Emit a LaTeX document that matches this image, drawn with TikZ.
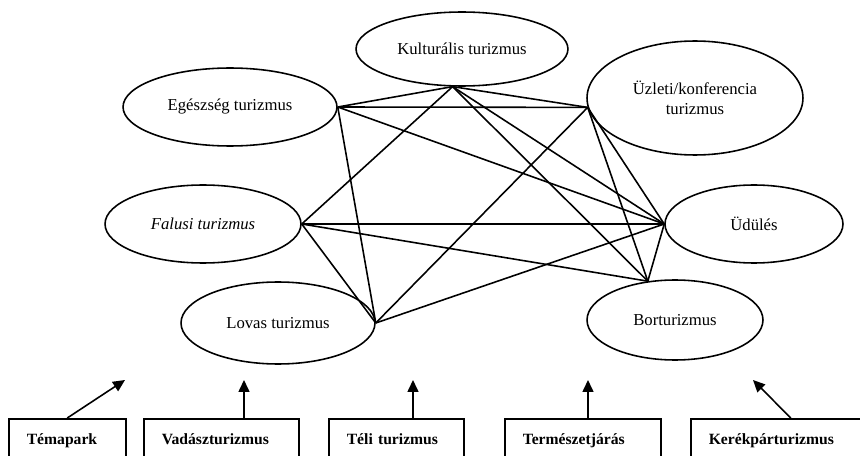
\documentclass[tikz,border=0pt]{standalone}
\usepackage{fontspec}
\setmainfont{Liberation Serif}
\usetikzlibrary{shapes.geometric,arrows.meta}

\begin{document}
\begin{tikzpicture}[x=0.02cm,y=-0.02cm,line width=0.9pt,
  tipus/.style={draw,ellipse,inner sep=0pt,align=center,font=\fontsize{9.5}{11.3}\selectfont},
  doboz/.style={draw,anchor=north west,minimum height=0.84cm,inner xsep=0.36cm,inner ysep=0pt,
    text height=0.7em,text depth=0.2em,align=left,font=\fontsize{8.9}{10}\selectfont\bfseries},
  nyil/.style={-{Triangle[length=0.24cm,width=0.22cm]}}]
%\draw [lightgray, ultra thin] (0,0) grid [step=20] (860,456);
\useasboundingbox (0,0) rectangle (860,456);
\clip (0,0) rectangle (860,456);

\node [tipus,minimum width=4.24cm,minimum height=1.48cm] (kult) at (462,49) {Kulturális turizmus};
\node [tipus,minimum width=4.28cm,minimum height=1.56cm] (ege) at (230,107) {Egészség turizmus};
\node [tipus,minimum width=4.32cm,minimum height=2.28cm] (uzl) at (695,98) {Üzleti/konferencia\\turizmus};
\node [tipus,minimum width=3.92cm,minimum height=1.56cm] (fal) at (203,224) {\itshape Falusi turizmus};
\node [tipus,minimum width=3.56cm,minimum height=1.56cm] (udu) at (754,224) {Üdülés};
\node [tipus,minimum width=3.88cm,minimum height=1.64cm] (lov) at (278,323) {Lovas turizmus};
\node [tipus,minimum width=3.52cm,minimum height=1.60cm] (bor) at (675,320) {Borturizmus};

\draw (ege.east) -- (kult.256);
\draw (ege.east) -- (uzl.185);
\draw (ege.east) -- (udu.west);
\draw (ege.east) -- (lov.east);

\draw (kult.256) -- (uzl.185);
\draw (kult.256) -- (fal.east);
\draw (kult.256) -- (udu.west);
\draw (kult.256) -- (bor.125);

\draw (uzl.185) -- (lov.east);
\draw (uzl.185) -- (udu.west);
\draw (uzl.185) -- (bor.125);

\draw (fal.east) -- (udu.west);
\draw (fal.east) -- (bor.125);
\draw (fal.east) -- (lov.east);

\draw (lov.east) -- (udu.west);
\draw (udu.west) -- (bor.125);

\node [doboz,text width=1.62cm] (tema) at (8,418) {Témapark};
\node [doboz,text width=2.38cm] (vad) at (143,418) {Vadászturizmus};
\node [doboz,text width=1.98cm] (teli) at (328,418) {Téli turizmus};
\node [doboz,text width=2.40cm] (term) at (504,418) {Természetjárás};
\node [doboz,text width=3.08cm] (kerek) at (690,418) {Kerékpárturizmus};

\coordinate (c1) at (125,380);
\coordinate (c2) at (244,380);
\coordinate (c3) at (413,380);
\coordinate (c4) at (588,380);
\coordinate (c5) at (753,380);

\draw [nyil] (tema.north) -- (c1);
\draw [nyil] (vad.north -| c2) -- (c2);
\draw [nyil] (teli.north -| c3) -- (c3);
\draw [nyil] (term.north -| c4) -- (c4);
\draw [nyil] ([xshift=0.1cm]kerek.north) -- (c5);
\end{tikzpicture}
\end{document}
